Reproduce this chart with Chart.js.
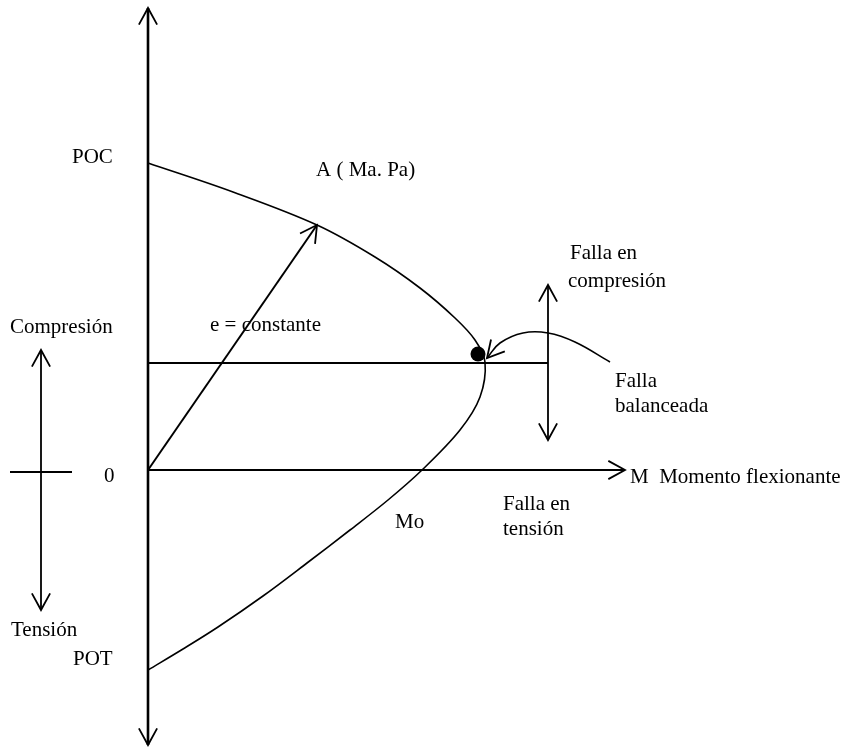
<!DOCTYPE html>
<html>
<head>
<meta charset="utf-8">
<script src="https://cdn.jsdelivr.net/npm/chart.js@4/dist/chart.umd.min.js"></script>
<style>
html,body{margin:0;padding:0;background:#fff;}
#wrap{width:864px;height:748px;}
</style>
</head>
<body>
<div id="wrap"><canvas id="c" width="864" height="748"></canvas></div>
<script>
// Diagram units: M = bending moment (x), P = axial load (y); origin at "0".
const curveUpperM = [0, 85, 169, 227, 272, 307, 327, 337];
const curveUpperP = [307, 278, 245, 213, 182, 152, 130, 108];
const curveLowerM = [332, 312, 274, 240, 202, 159, 115, 70, 35, 0];
const curveLowerP = [73, 40, 0, -30, -60, -93, -126, -157, -179, -200];

const POC = 307, POT = -200;
const balancedM = 330, balancedP = 107;
const balanceLineEndM = 400;
const pointA = {M: 169, P: 245};
const axisTopP = 462, axisBottomP = -275, axisRightM = 477;
const zoneArrowM = 400, zoneArrowTopP = 185, zoneArrowBottomP = 30;
const signArrowM = -107, signArrowTopP = 120, signArrowBottomP = -140;
const signTickP = -2, signTickLeftM = -138, signTickRightM = -76;
const pointerM = [339, 352, 375, 400, 427, 462];
const pointerP = [112, 127, 137, 137, 128, 108];

const labels = [
  {t: 'POC', m: -76, p: 307},
  {t: 'A ( Ma. Pa)', m: 168, p: 294},
  {t: 'Falla en', m: 422, p: 211},
  {t: 'compresión', m: 420, p: 183},
  {t: 'Compresión', m: -138, p: 137},
  {t: 'e = constante', m: 62, p: 139},
  {t: 'Falla', m: 467, p: 83},
  {t: 'balanceada', m: 467, p: 58},
  {t: '0', m: -44, p: -12},
  {t: 'M  Momento flexionante', m: 482, p: -13},
  {t: 'Falla en', m: 355, p: -40},
  {t: 'tensión', m: 355, p: -65},
  {t: 'Mo', m: 247, p: -58},
  {t: 'Tensión', m: -137, p: -166},
  {t: 'POT', m: -75, p: -195}
];

function pts(ms, ps){ return ms.map((m,i)=>({x:m, y:ps[i]})); }
const curve = pts(curveUpperM, curveUpperP).concat(pts(curveLowerM, curveLowerP));

function lineDs(data, w, extra){
  return Object.assign({type:'line', data, borderColor:'#000', borderWidth:w, pointRadius:0, tension:0, fill:false}, extra||{});
}

const datasets = [
  lineDs([{x:0,y:axisTopP},{x:0,y:axisBottomP}], 2.6, {arrow:'both'}),
  lineDs([{x:0,y:0},{x:axisRightM,y:0}], 2.2, {arrow:'end'}),
  lineDs(curve, 1.6, {tension:0.35}),
  lineDs([{x:0,y:balancedP},{x:balanceLineEndM,y:balancedP}], 1.8),
  lineDs([{x:0,y:0},{x:pointA.M,y:pointA.P}], 2, {arrow:'end'}),
  lineDs([{x:zoneArrowM,y:zoneArrowTopP},{x:zoneArrowM,y:zoneArrowBottomP}], 1.8, {arrow:'both'}),
  lineDs([{x:signArrowM,y:signArrowTopP},{x:signArrowM,y:signArrowBottomP}], 1.8, {arrow:'both'}),
  lineDs([{x:signTickLeftM,y:signTickP},{x:signTickRightM,y:signTickP}], 1.8),
  lineDs(pts(pointerM, pointerP), 1.6, {tension:0.4, arrow:'start'}),
  {type:'scatter', data:[{x:balancedM,y:balancedP+9}], pointRadius:7.5, pointBackgroundColor:'#000', pointBorderColor:'#000', borderWidth:0}
];

const arrowPlugin = {
  id:'arrows',
  afterDatasetsDraw(chart){
    const ctx = chart.ctx;
    chart.data.datasets.forEach((ds, i) => {
      if (!ds.arrow) return;
      const meta = chart.getDatasetMeta(i);
      const el = meta.data;
      const n = el.length;
      const heads = [];
      if (ds.arrow === 'end' || ds.arrow === 'both') heads.push([el[n-1], el[n-2]]);
      if (ds.arrow === 'start' || ds.arrow === 'both') heads.push([el[0], el[1]]);
      ctx.save();
      ctx.strokeStyle = '#000';
      ctx.lineWidth = 1.8;
      heads.forEach(([tip, prev]) => {
        const a = Math.atan2(tip.y - prev.y, tip.x - prev.x);
        const L = 19, h = 0.5;
        ctx.beginPath();
        ctx.moveTo(tip.x - L*Math.cos(a - h), tip.y - L*Math.sin(a - h));
        ctx.lineTo(tip.x, tip.y);
        ctx.lineTo(tip.x - L*Math.cos(a + h), tip.y - L*Math.sin(a + h));
        ctx.stroke();
      });
      ctx.restore();
    });
  }
};

const textPlugin = {
  id:'texts',
  afterDraw(chart){
    const ctx = chart.ctx, xs = chart.scales.x, ys = chart.scales.y;
    ctx.save();
    ctx.fillStyle = '#000';
    ctx.font = '21px "Liberation Serif", "Times New Roman", serif';
    ctx.textAlign = 'left';
    ctx.textBaseline = 'alphabetic';
    labels.forEach(l => ctx.fillText(l.t, xs.getPixelForValue(l.m), ys.getPixelForValue(l.p)));
    ctx.restore();
  }
};

new Chart(document.getElementById('c'), {
  data: {datasets},
  options: {
    responsive:false,
    animation:false,
    devicePixelRatio:1,
    layout:{padding:0, autoPadding:false},
    plugins:{legend:{display:false}, tooltip:{enabled:false}},
    scales:{
      x:{type:'linear', min:-148, max:716, display:false},
      y:{type:'linear', min:-278, max:470, display:false}
    }
  },
  plugins:[arrowPlugin, textPlugin]
});
</script>
</body>
</html>
